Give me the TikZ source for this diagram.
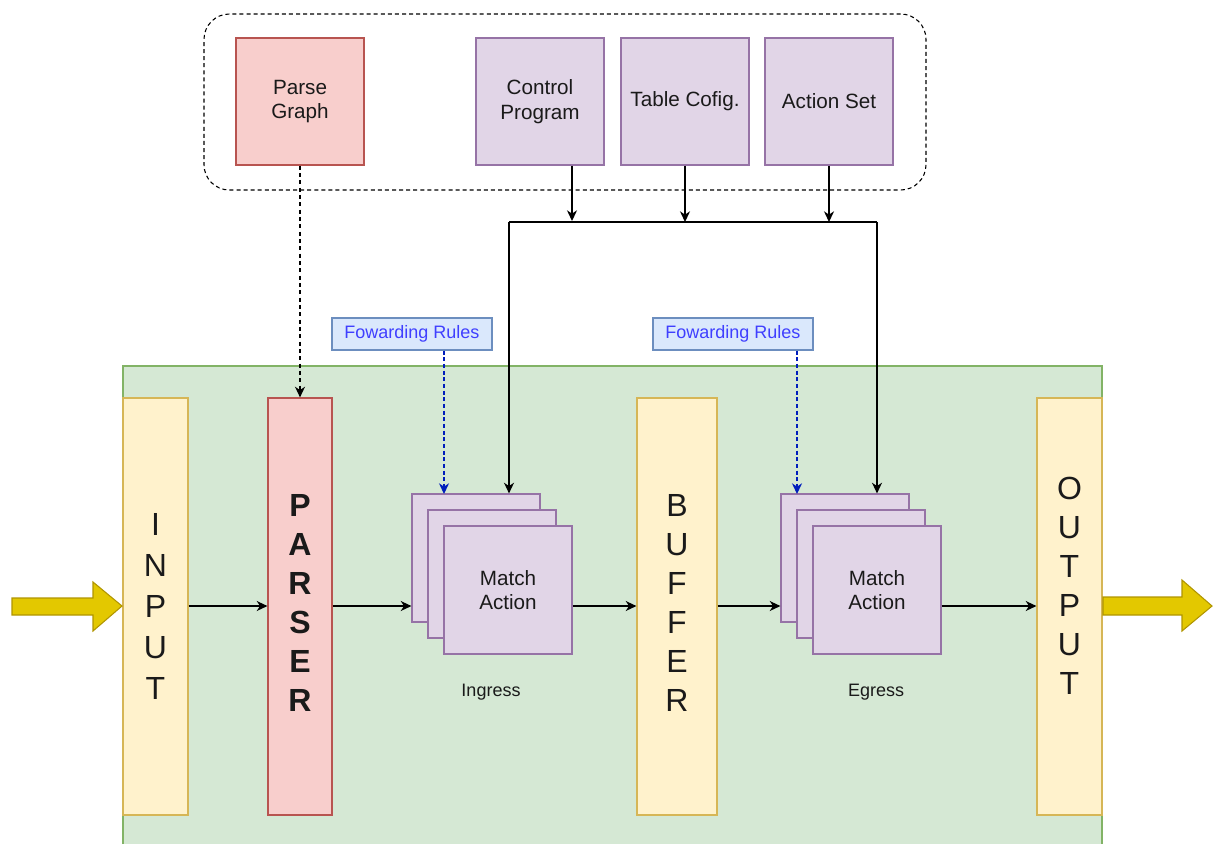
\documentclass[tikz,border=0pt]{standalone}
\usepackage{fontspec}
\setmainfont{Liberation Sans}
\usetikzlibrary{arrows.meta}
\newdimen\px \px=0.75pt
\definecolor{redF}{HTML}{F8CECC}
\definecolor{redD}{HTML}{B85450}
\definecolor{purF}{HTML}{E1D5E7}
\definecolor{purD}{HTML}{9673A6}
\definecolor{yelF}{HTML}{FFF2CC}
\definecolor{yelD}{HTML}{D6B656}
\definecolor{grnF}{HTML}{D5E8D4}
\definecolor{grnD}{HTML}{82B366}
\definecolor{bluF}{HTML}{DAE8FC}
\definecolor{bluD}{HTML}{6C8EBF}
\definecolor{bluT}{HTML}{3F3FFF}
\definecolor{bluA}{HTML}{001DBC}
\definecolor{arrF}{HTML}{E3C800}
\definecolor{arrD}{HTML}{B09500}
\definecolor{txt}{HTML}{1A1A1A}
\tikzset{
  box/.style={draw, line width=0.9pt, inner sep=0pt, align=center, text=txt,
    font=\fontsize{15.5}{18.5}\selectfont},
  redbox/.style={box, fill=redF, draw=redD},
  purbox/.style={box, fill=purF, draw=purD},
  yelbox/.style={box, fill=yelF, draw=yelD},
  fwbox/.style={draw=bluD, fill=bluF, line width=0.9pt, text=bluT, inner sep=0pt,
    font=\fontsize{13.5}{16}\selectfont, minimum width=160\px, minimum height=32\px},
  bigtxt/.style={font=\fontsize{24}{29.25}\selectfont, align=center, text=txt},
  arr/.style={line width=1pt, -{Stealth[length=8pt,width=7.5pt,inset=2.5pt]}},
  bluarr/.style={arr, draw=bluA, dashed, dash pattern=on 3pt off 2pt},
  dasharr/.style={arr, dashed, dash pattern=on 3pt off 2.5pt},
  lbl/.style={font=\fontsize{13.5}{15}\selectfont, text=txt},
  bigarrow/.style={fill=arrF, draw=arrD, line width=0.8pt, line join=miter}
}
\begin{document}
\begin{tikzpicture}[x=0.75pt,y=-0.75pt]
\useasboundingbox (0,0) rectangle (1213,844);
% green container
\fill[grnF] (123,366) rectangle (1102,844);
\draw[grnD, line width=1pt] (123,844) -- (123,366) -- (1102,366) -- (1102,844);
% dashed group
\node[draw, dashed, dash pattern=on 3pt off 2.3pt, line width=0.8pt, rounded corners=19pt,
  minimum width=722\px, minimum height=176\px, inner sep=0pt] (grp) at (565,102) {};
% top boxes
\node[redbox, minimum width=128\px, minimum height=127\px] (pg) at (300,101.5) {Parse\\Graph};
\node[purbox, minimum width=128\px, minimum height=127\px] (cp) at (540,101.5) {Control\\Program};
\node[purbox, minimum width=128\px, minimum height=127\px] (tc) at (685,101.5) {Table Cofig.};
\node[purbox, minimum width=128\px, minimum height=127\px] (as) at (829,101.5) {Action Set};
% forwarding rules
\node[fwbox] (fw1) at (412,334) {Fowarding Rules};
\node[fwbox] (fw2) at (733,334) {Fowarding Rules};
% columns
\node[yelbox, minimum width=65\px, minimum height=417\px] (inp) at (155.5,606.5) {};
\node[bigtxt, font=\fontsize{24}{30.75}\selectfont] (inpt) at (155.5,606) {I\\N\\P\\U\\T};
\node[redbox, minimum width=64\px, minimum height=417\px] (par) at (300,606.5) {};
\node[bigtxt, font=\fontsize{24}{29.25}\selectfont\bfseries] (part) at (300,603) {P\\A\\R\\S\\E\\R};
\node[yelbox, minimum width=80\px, minimum height=417\px] (buf) at (677,606.5) {};
\node[bigtxt] (buft) at (677,603) {B\\U\\F\\F\\E\\R};
\node[yelbox, minimum width=65\px, minimum height=417\px] (out) at (1069.5,606.5) {};
\node[bigtxt] (outt) at (1069.5,586) {O\\U\\T\\P\\U\\T};
% match-action stacks
\node[purbox, minimum width=128\px, minimum height=128\px] (ib) at (476,558) {};
\node[purbox, minimum width=128\px, minimum height=128\px] (im) at (492,574) {};
\node[purbox, minimum width=128\px, minimum height=128\px] (if) at (508,590) {Match\\Action};
\node[purbox, minimum width=128\px, minimum height=128\px] (eb) at (845,558) {};
\node[purbox, minimum width=128\px, minimum height=128\px] (em) at (861,574) {};
\node[purbox, minimum width=128\px, minimum height=128\px] (ef) at (877,590) {Match\\Action};
\node[lbl] (ing) at (491,692) {Ingress};
\node[lbl] (egr) at (876,692) {Egress};
% bus
\coordinate (busL) at (509,222);
\coordinate (busR) at (877,222);
\coordinate (mid) at (0,606);
\draw[line width=1pt] (busL) -- (busR);
\draw[arr] (cp.south -| 572,0) -- (572,221);
\draw[arr] (tc.south) -- (tc.south |- busL);
\draw[arr] (as.south) -- (as.south |- busL);
\draw[arr] (busL) -- (busL |- ib.north);
\draw[arr] (busR) -- (busR |- eb.north);
% dashed arrows
\draw[dasharr] (pg.south) -- (par.north);
\draw[bluarr] (fw1.south -| 444,0) -- (444,494);
\draw[bluarr] (fw2.south -| 797,0) -- (797,494);
% flow arrows
\draw[arr] (inp.east |- mid) -- (par.west |- mid);
\draw[arr] (par.east |- mid) -- (ib.west |- mid);
\draw[arr] (if.east |- mid) -- (buf.west |- mid);
\draw[arr] (buf.east |- mid) -- (eb.west |- mid);
\draw[arr] (ef.east |- mid) -- (out.west |- mid);
% big yellow arrows
\draw[bigarrow] (12,598) -- (93,598) -- (93,582) -- (122,606) -- (93,631) -- (93,615) -- (12,615) -- cycle;
\draw[bigarrow] (1103,597) -- (1182,597) -- (1182,580) -- (1212,606) -- (1182,631) -- (1182,615) -- (1103,615) -- cycle;
\end{tikzpicture}
\end{document}
